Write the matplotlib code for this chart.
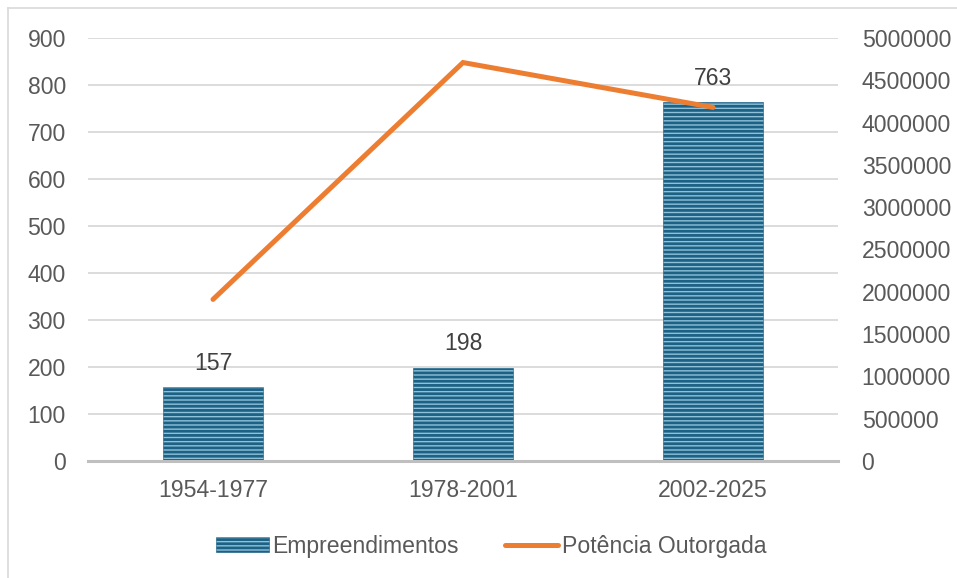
import matplotlib
matplotlib.use("Agg")
import matplotlib.pyplot as plt
from matplotlib.lines import Line2D
from matplotlib.patches import Patch

categories = ["1954-1977", "1978-2001", "2002-2025"]
empreendimentos = [157, 198, 763]
potencia = [1910000, 4710000, 4180000]
left_ticks = [0, 100, 200, 300, 400, 500, 600, 700, 800, 900]
right_ticks = [0, 500000, 1000000, 1500000, 2000000, 2500000, 3000000,
               3500000, 4000000, 4500000, 5000000]

plt.rcParams['font.family'] = ['Liberation Sans', 'DejaVu Sans']
plt.rcParams['hatch.linewidth'] = 2.0
plt.rcParams['hatch.color'] = '#1d6184'

txt = '#595959'
fs = 16.6
face = '#8fc2d9'
dark = '#1d6184'

fig = plt.figure(figsize=(9.57, 5.78), dpi=100)
ax = fig.add_axes([88/957, 1-461/578, 750/957, 423/578])
ax2 = ax.twinx()

x = list(range(len(categories)))
ax.bar(x, empreendimentos, width=0.4, color=face,
       edgecolor=dark, linewidth=0.4, hatch='----', zorder=2)
for xi, v in zip(x, empreendimentos):
    ax.annotate(str(v), (xi, v), xytext=(0, 9), textcoords='offset points',
                ha='center', va='bottom', fontsize=fs, color='#404040')

ax2.plot(x, potencia, color='#ed7d31', lw=3.6, solid_capstyle='round',
         solid_joinstyle='miter', zorder=3)

ax.set_xlim(-0.5, 2.5)
ax.set_ylim(0, 900)
ax2.set_ylim(0, 5000000)
ax.set_yticks(left_ticks)
ax.set_yticklabels([str(t) for t in left_ticks])
ax2.set_yticks(right_ticks)
ax2.set_yticklabels([str(t) for t in right_ticks])
ax.set_xticks(x)
ax.set_xticklabels(categories)

ax.grid(axis='y', color='#d9d9d9', lw=1.3, zorder=0)
ax.set_axisbelow(True)
for a in (ax, ax2):
    for s in a.spines.values():
        s.set_visible(False)
ax.spines['bottom'].set_visible(True)
ax.spines['bottom'].set_color('#bfbfbf')
ax.spines['bottom'].set_linewidth(2.2)
ax.spines['bottom'].set_zorder(5)

ax.tick_params(axis='y', length=0, pad=16, labelsize=fs, labelcolor=txt)
ax2.tick_params(axis='y', length=0, pad=17, labelsize=fs, labelcolor=txt)
ax.tick_params(axis='x', length=0, pad=13, labelsize=fs, labelcolor=txt)

ax2.set_zorder(ax.get_zorder() + 1)
ax2.patch.set_visible(False)

handles = [Patch(facecolor=face, edgecolor=dark, linewidth=0.4, hatch='----'),
           Line2D([0], [0], color='#ed7d31', lw=3.6, solid_capstyle='round')]
fig.legend(handles, ["Empreendimentos", "Potência Outorgada"],
           loc='center', bbox_to_anchor=(491/957, 1-546/578), ncol=2,
           frameon=False, fontsize=fs, labelcolor=txt, handlelength=2.3,
           handletextpad=0.15, columnspacing=2.0, handleheight=0.6)

# chart border (left and top visible)
fig.add_artist(Line2D([8/957, 8/957], [0, 1-8/578], color='#d9d9d9', lw=1.2,
                      transform=fig.transFigure))
fig.add_artist(Line2D([8/957, 1], [1-8/578, 1-8/578], color='#d9d9d9', lw=1.2,
                      transform=fig.transFigure))

fig.savefig("out.png", dpi=100)
